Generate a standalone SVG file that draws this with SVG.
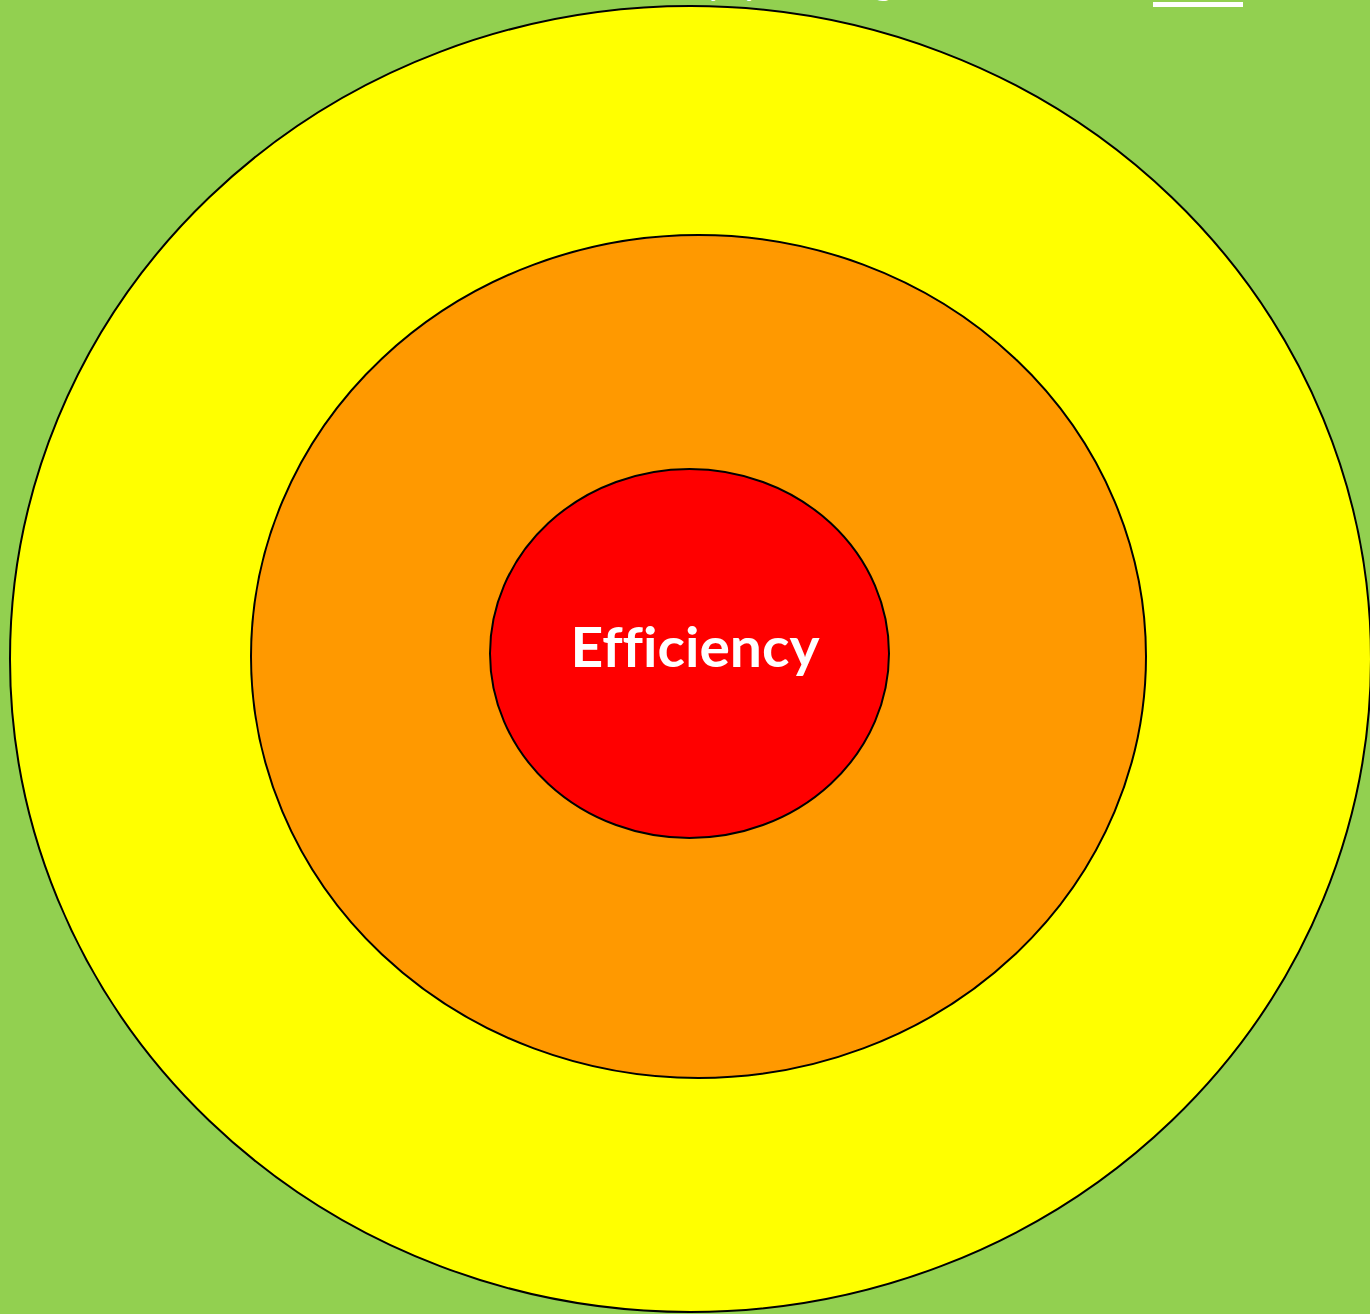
<svg xmlns="http://www.w3.org/2000/svg" width="1370" height="1314" viewBox="0 0 1370 1314">
  <style>
    .ring { stroke: #000; stroke-width: 2; }
    .lbl { font-family: Lato, "Open Sans", "Liberation Sans", sans-serif; font-weight: bold; fill: #fff; font-variant-ligatures: none; }
  </style>
  <rect x="0" y="0" width="1370" height="1314" fill="#92D050"/>
  <g id="title">
    <text class="lbl" x="555" y="-6" font-size="40" style="font-weight:normal">Efficiency, planning and</text>
    <rect x="1153" y="2" width="90" height="5" fill="#fff"/>
  </g>
  <g id="outer-ring">
    <ellipse class="ring" cx="690.5" cy="659" rx="680.5" ry="653" fill="#FFFF00"/>
  </g>
  <g id="middle-ring">
    <ellipse class="ring" cx="698.5" cy="656.5" rx="447.5" ry="421.5" fill="#FF9900"/>
  </g>
  <g id="center">
    <ellipse class="ring" cx="689.5" cy="653.5" rx="199.5" ry="184.5" fill="#FF0000"/>
    <text class="lbl" x="695" y="667" font-size="55" text-anchor="middle" textLength="249" lengthAdjust="spacingAndGlyphs">Efficiency</text>
  </g>
  <g id="connectors"></g>
</svg>
